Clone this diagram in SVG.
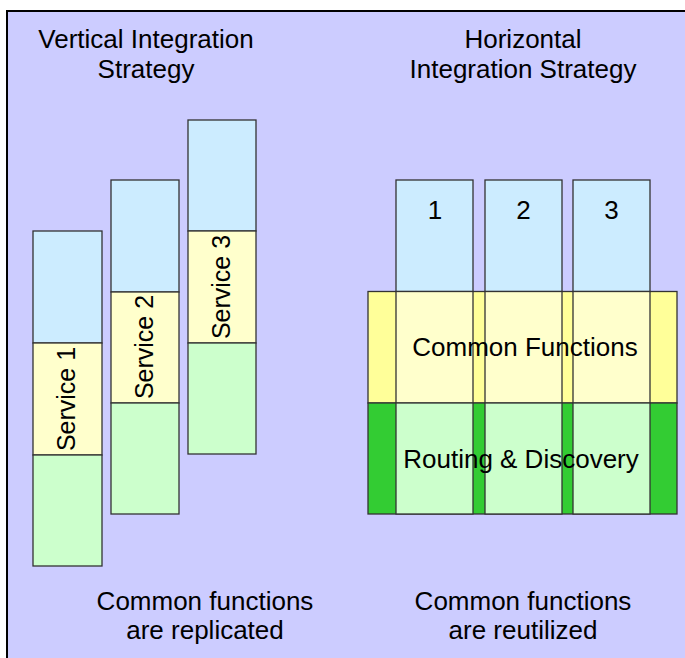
<svg xmlns="http://www.w3.org/2000/svg" width="685" height="658" viewBox="0 0 685 658">
<style>
text{font-family:"Liberation Sans",Arial,sans-serif;font-size:26px;fill:#000;text-anchor:middle}
text.svc{font-size:25px}
.seg{stroke:#333;stroke-width:1.3}
.blue{fill:#CCECFF}
.ly{fill:#FFFFCC}
.lg{fill:#CCFFCC}
.y{fill:#FFFF99}
.g{fill:#33CC33}
</style>
<rect x="7" y="11" width="700" height="700" fill="#CCCCFF" stroke="#000" stroke-width="2"/>
<g id="titles">
<text x="146" y="48">Vertical Integration</text>
<text x="146" y="78">Strategy</text>
<text x="523" y="48">Horizontal</text>
<text x="523" y="78">Integration Strategy</text>
</g>
<g id="vertical-service-1">
<rect class="seg blue" x="33" y="231" width="69" height="112"/>
<rect class="seg ly" x="33" y="343" width="69" height="112"/>
<rect class="seg lg" x="33" y="455" width="69" height="111"/>
<text class="svc" transform="translate(75,399) rotate(-90)">Service 1</text>
</g>
<g id="vertical-service-2">
<rect class="seg blue" x="111" y="180" width="68" height="112"/>
<rect class="seg ly" x="111" y="292" width="68" height="111"/>
<rect class="seg lg" x="111" y="403" width="68" height="111"/>
<text class="svc" transform="translate(153,347) rotate(-90)">Service 2</text>
</g>
<g id="vertical-service-3">
<rect class="seg blue" x="188" y="120" width="68" height="111"/>
<rect class="seg ly" x="188" y="231" width="68" height="112"/>
<rect class="seg lg" x="188" y="343" width="68" height="111"/>
<text class="svc" transform="translate(230,287) rotate(-90)">Service 3</text>
</g>
<g id="horizontal-bands">
<rect class="seg y" x="368" y="291.5" width="309" height="111.5"/>
<rect class="seg g" x="368" y="403" width="309" height="111"/>
</g>
<g id="horizontal-service-1">
<rect class="seg blue" x="396" y="180" width="77" height="111.5"/>
<rect class="seg ly" x="396" y="291.5" width="77" height="111.5"/>
<rect class="seg lg" x="396" y="403" width="77" height="111"/>
<text x="435" y="219">1</text>
</g>
<g id="horizontal-service-2">
<rect class="seg blue" x="485" y="180" width="77" height="111.5"/>
<rect class="seg ly" x="485" y="291.5" width="77" height="111.5"/>
<rect class="seg lg" x="485" y="403" width="77" height="111"/>
<text x="523.5" y="219">2</text>
</g>
<g id="horizontal-service-3">
<rect class="seg blue" x="573" y="180" width="77" height="111.5"/>
<rect class="seg ly" x="573" y="291.5" width="77" height="111.5"/>
<rect class="seg lg" x="573" y="403" width="77" height="111"/>
<text x="611.5" y="219">3</text>
</g>
<g id="band-labels">
<text x="525" y="356">Common Functions</text>
<text x="521" y="468">Routing &amp; Discovery</text>
</g>
<g id="captions">
<text x="205" y="610">Common functions</text>
<text x="205" y="639">are replicated</text>
<text x="523" y="610">Common functions</text>
<text x="523" y="639">are reutilized</text>
</g>
<g id="connectors"/>
</svg>
